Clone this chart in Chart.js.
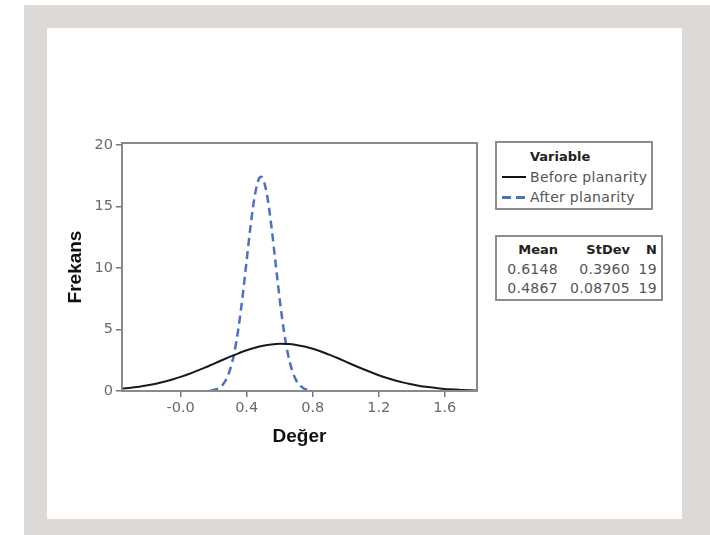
<!DOCTYPE html>
<html>
<head>
<meta charset="utf-8">
<script src="https://cdn.jsdelivr.net/npm/chart.js@4"></script>
<style>
  body { margin: 0; width: 710px; height: 535px; position: relative; background: #fff; overflow: hidden; font-family: 'DejaVu Sans', sans-serif; }
  .frame { position: absolute; left: 24px; top: 5px; width: 686px; height: 530px; background: #ddd9d6; }
  .panel { position: absolute; left: 47px; top: 28px; width: 635px; height: 491px; background: #fff; }
  #wrap { position: absolute; left: 0; top: 0; width: 710px; height: 535px; }
  .box { position: absolute; border: 2px solid #8c8c8c; box-sizing: border-box; background: #fff; color: #555; font-size: 14px; letter-spacing: 0.3px; }
  .box span { position: absolute; white-space: nowrap; line-height: 16px; transform: translateY(-50%); }
  .box b { color: #222; font-size: 13px; letter-spacing: 0; }
</style>
</head>
<body>
<div class="frame"></div>
<div class="panel"></div>
<div id="wrap"><canvas id="distChart" width="710" height="535"></canvas></div>

<div class="box" id="legendBox" style="left:495px; top:141px; width:158px; height:69px;">
  <span style="left:33px; top:13px;"><b>Variable</b></span>
  <svg style="position:absolute; left:5px; top:32px;" width="26" height="4"><line x1="0" y1="2" x2="24" y2="2" stroke="#111" stroke-width="2"/></svg>
  <span style="left:33px; top:34px;">Before planarity</span>
  <svg style="position:absolute; left:5px; top:52px;" width="26" height="5"><line x1="0" y1="2.5" x2="24" y2="2.5" stroke="#4a72c2" stroke-width="3" stroke-dasharray="9,5"/></svg>
  <span style="left:33px; top:54px;">After planarity</span>
</div>

<div class="box" id="statBox" style="left:495px; top:235px; width:168px; height:66px;"></div>

<script>
// ---- data ----
const xBefore = [-0.35, -0.30, -0.25, -0.20, -0.15, -0.10, -0.05, 0.00, 0.05, 0.10, 0.15, 0.20, 0.25, 0.30, 0.35, 0.40, 0.45, 0.50, 0.55, 0.60, 0.65, 0.70, 0.75, 0.80, 0.85, 0.90, 0.95, 1.00, 1.05, 1.10, 1.15, 1.20, 1.25, 1.30, 1.35, 1.40, 1.45, 1.50, 1.55, 1.60, 1.65, 1.70, 1.75, 1.80];
const yBefore = [0.20, 0.27, 0.35, 0.46, 0.59, 0.75, 0.94, 1.15, 1.38, 1.65, 1.92, 2.21, 2.50, 2.79, 3.06, 3.31, 3.51, 3.67, 3.78, 3.83, 3.81, 3.74, 3.61, 3.43, 3.21, 2.95, 2.68, 2.39, 2.09, 1.81, 1.54, 1.28, 1.06, 0.86, 0.68, 0.54, 0.41, 0.32, 0.24, 0.17, 0.13, 0.09, 0.06, 0.04];

const xAfter = [0.18, 0.20, 0.225, 0.25, 0.275, 0.30, 0.325, 0.35, 0.375, 0.40, 0.425, 0.45, 0.475, 0.487, 0.50, 0.525, 0.55, 0.575, 0.60, 0.625, 0.65, 0.675, 0.70, 0.725, 0.75, 0.775, 0.79];
const yAfter = [0.03, 0.08, 0.19, 0.43, 0.91, 1.75, 3.10, 5.08, 7.65, 10.61, 13.55, 15.94, 17.26, 17.41, 17.21, 15.81, 13.37, 10.41, 7.47, 4.93, 3.00, 1.68, 0.87, 0.41, 0.18, 0.07, 0.04];

const seriesNames = ['Before planarity', 'After planarity'];
const xTicks = [0, 0.4, 0.8, 1.2, 1.6];
const xTickLabels = ['-0.0', '0.4', '0.8', '1.2', '1.6'];
const yTicks = [0, 5, 10, 15, 20];

const statHeaders = ['Mean', 'StDev', 'N'];
const statMean = ['0.6148', '0.4867'];
const statStDev = ['0.3960', '0.08705'];
const statN = ['19', '19'];

// ---- stats box ----
const statBox = document.getElementById('statBox');
const colRight = [63, 135, 162];
const rowTop = [12, 32, 51];
let html = '';
statHeaders.forEach((h, i) => {
  html += `<span style="right:${166 - colRight[i]}px; top:${rowTop[0]}px;"><b>${h}</b></span>`;
});
for (let r = 0; r < 2; r++) {
  [statMean[r], statStDev[r], statN[r]].forEach((v, i) => {
    html += `<span style="right:${166 - colRight[i]}px; top:${rowTop[r + 1]}px;">${v}</span>`;
  });
}
statBox.innerHTML = html;

// ---- chart ----
const toPoints = (xs, ys) => xs.map((x, i) => ({ x: x, y: ys[i] }));

// grey box round the plot area
const framePlugin = {
  id: 'frame',
  afterDatasetsDraw(chart) {
    const a = chart.chartArea;
    const ctx = chart.ctx;
    ctx.save();
    ctx.strokeStyle = '#8a8a8a';
    ctx.lineWidth = 2;
    ctx.strokeRect(a.left, a.top, a.right - a.left, a.bottom - a.top);
    ctx.restore();
  }
};

Chart.defaults.font.family = "'DejaVu Sans', sans-serif";

const distCanvas = document.getElementById('distChart');

let distChart = new Chart(distCanvas, {
  type: 'scatter',
  data: {
    datasets: [{
      label: seriesNames[0],
      data: toPoints(xBefore, yBefore),
      showLine: true,
      borderColor: '#1a1a1a',
      borderWidth: 2,
      pointRadius: 0,
      tension: 0.4,
      cubicInterpolationMode: 'monotone'
    }, {
      label: seriesNames[1],
      data: toPoints(xAfter, yAfter),
      showLine: true,
      borderColor: '#4a72c2',
      borderWidth: 2.5,
      borderDash: [8, 5],
      pointRadius: 0,
      tension: 0.4,
      cubicInterpolationMode: 'monotone'
    }]
  },
  options: {
    responsive: false,
    animation: false,
    layout: { padding: { left: 60, right: 233, top: 143, bottom: 83 } },
    plugins: { legend: { display: false }, tooltip: { enabled: false } },
    scales: {
      x: {
        type: 'linear',
        min: -0.355,
        max: 1.795,
        afterFit: s => { s.height = 61; },
        afterBuildTicks: s => { s.ticks = xTicks.map(v => ({ value: v })); },
        ticks: {
          color: '#6a6a6a',
          font: { size: 14.5 },
          padding: 3,
          callback: (v, i) => xTickLabels[i]
        },
        grid: { drawOnChartArea: false, drawTicks: true, tickLength: 6, color: '#777', lineWidth: 1.5 },
        border: { display: false },
        title: { display: true, text: 'Değer', color: '#111', font: { size: 19, weight: 'bold', family: "'Liberation Sans', sans-serif" }, padding: { top: 6, bottom: 4 } }
      },
      y: {
        min: 0,
        max: 20.15,
        afterFit: s => { s.width = 62; },
        afterBuildTicks: s => { s.ticks = yTicks.map(v => ({ value: v })); },
        ticks: { color: '#6a6a6a', font: { size: 14.5 }, padding: 3 },
        grid: { drawOnChartArea: false, drawTicks: true, tickLength: 6, color: '#777', lineWidth: 1.5 },
        border: { display: false },
        title: { display: true, text: 'Frekans', color: '#111', font: { size: 19, weight: 'bold', family: "'Liberation Sans', sans-serif" }, padding: { top: 4, bottom: 6 } }
      }
    }
  },
  plugins: [framePlugin]
});
</script>
</body>
</html>
